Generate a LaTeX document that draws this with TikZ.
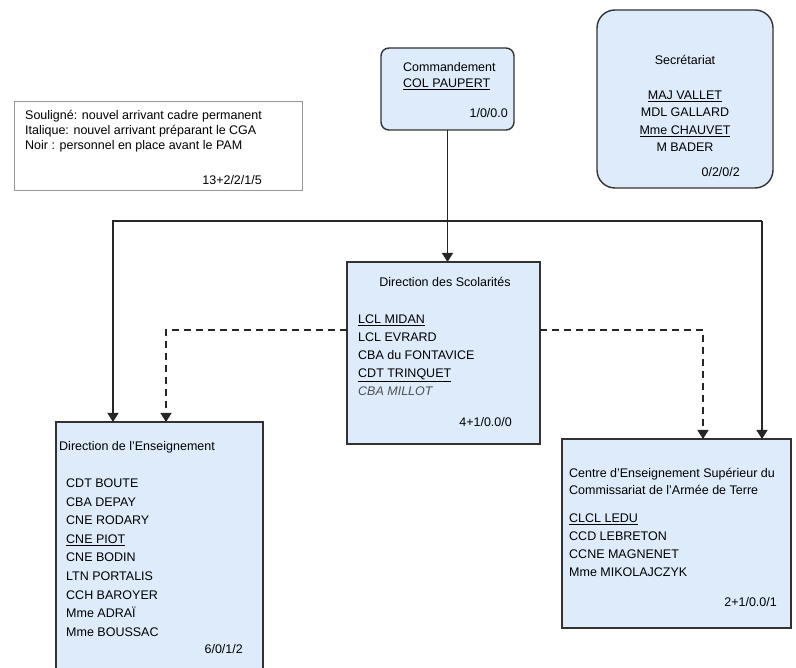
\documentclass[tikz,border=0pt]{standalone}
\usepackage{fontspec}
\setmainfont{Liberation Sans}
\usetikzlibrary{arrows.meta,calc}
\usepackage{xcolor}

\definecolor{unitfill}{RGB}{221,235,250}
\definecolor{unitline}{RGB}{50,50,50}
\definecolor{noteline}{RGB}{150,150,150}
\definecolor{italgray}{RGB}{80,80,80}

\begin{document}
\begin{tikzpicture}[
        %Environment config
        x=1pt, y=-1pt,
        font=\fontsize{12.5}{14}\selectfont,
        %Environment styles
        UnitCfg/.style={
            draw=unitline,
            line width=1.4pt,
            fill=unitfill,
            inner sep=0pt,
            outer sep=0pt
        },
        NoteCfg/.style={
            draw=noteline,
            line width=0.8pt,
            fill=white,
            inner sep=0pt,
            outer sep=0pt
        },
        TextCfg/.style={inner sep=0pt, align=left},
        LinkCfg/.style={
            draw=black!85,
            line width=1.3pt,
            -{Triangle[width=11pt,length=9pt]}
        },
        DashCfg/.style={LinkCfg, dash pattern=on 7pt off 5pt}
    ]
    \useasboundingbox (0,0) rectangle (796,668);

    %boxes
    \path
        (158,145.5) node[NoteCfg, minimum width=288pt, minimum height=89pt](NOTE){}
        (447.5,89) node[UnitCfg, rounded corners=8pt, minimum width=133pt, minimum height=82pt](CMD){}
        (685,99) node[UnitCfg, rounded corners=18pt, minimum width=176pt, minimum height=178pt](SECR){}
        (443.5,353) node[UnitCfg, minimum width=193pt, minimum height=182pt](SCOL){}
        (159.5,556) node[UnitCfg, minimum width=207pt, minimum height=268pt](ENS){}
        (676.5,533.5) node[UnitCfg, minimum width=229pt, minimum height=189pt](CESC){};

    %texts
    \path
        (NOTE.north west) ++(11,9) node[TextCfg, anchor=north west, font=\fontsize{12.5}{15}\selectfont](NOTETXT){
            Souligné: nouvel arrivant cadre permanent\\
            Italique: nouvel arrivant préparant le CGA\\
            Noir : personnel en place avant le PAM}
        (262,185) node[TextCfg, anchor=base east](NOTECNT){13+2/2/1/5}

        (403,62) node[TextCfg, anchor=north west, font=\fontsize{12.5}{16}\selectfont](CMDTXT){
            Commandement\\
            \underline{COL PAUPERT}}
        (508,118) node[TextCfg, anchor=base east](CMDCNT){1/0/0.0}

        (685,55) node[TextCfg, align=center, anchor=north, font=\fontsize{12.5}{17.5}\selectfont](SECRTXT){
            Secrétariat\\[17.5pt]
            \underline{MAJ VALLET}\\
            MDL GALLARD\\
            \underline{Mme CHAUVET}\\
            M BADER}
        (740,177) node[TextCfg, anchor=base east](SECRCNT){0/2/0/2}

        (445,287) node[TextCfg, anchor=base](SCOLTTL){Direction des Scolarités}
        (358,315) node[TextCfg, anchor=north west, font=\fontsize{12.5}{18}\selectfont](SCOLTXT){
            \underline{LCL MIDAN}\\
            LCL EVRARD\\
            CBA du FONTAVICE\\
            \underline{CDT TRINQUET}\\
            \textcolor{italgray}{\textit{CBA MILLOT}}}
        (512,427) node[TextCfg, anchor=base east](SCOLCNT){4+1/0.0/0}

        (59,451) node[TextCfg, anchor=base west](ENSTTL){Direction de l’Enseignement}
        (66,478.5) node[TextCfg, anchor=north west, font=\fontsize{12.5}{18.6}\selectfont](ENSTXT){
            CDT BOUTE\\
            CBA DEPAY\\
            CNE RODARY\\
            \underline{CNE PIOT}\\
            CNE BODIN\\
            LTN PORTALIS\\
            CCH BAROYER\\
            Mme ADRAÏ\\
            Mme BOUSSAC}
        (243,653) node[TextCfg, anchor=base east](ENSCNT){6/0/1/2}

        (569,468) node[TextCfg, anchor=north west, font=\fontsize{12.5}{17.5}\selectfont](CESCTTL){
            Centre d’Enseignement Supérieur du\\
            Commissariat de l’Armée de Terre}
        (569,513.5) node[TextCfg, anchor=north west, font=\fontsize{12.5}{18}\selectfont](CESCTXT){
            \underline{CLCL LEDU}\\
            CCD LEBRETON\\
            CCNE MAGNENET\\
            Mme MIKOLAJCZYK}
        (777,606) node[TextCfg, anchor=base east](CESCCNT){2+1/0.0/1};

    %links
    \coordinate (BUSL) at (113,221);
    \coordinate (BUSR) at (762,221);
    \coordinate (DSHL) at (166,330);
    \coordinate (DSHR) at (703,330);

    \draw[LinkCfg] (CMD.south) -- (CMD.south |- SCOL.north);
    \draw[LinkCfg] (BUSR) -- (BUSL) -- (BUSL |- ENS.north);
    \draw[LinkCfg] (BUSR) -- (BUSR |- CESC.north);

    \draw[DashCfg] (DSHL -| SCOL.west) -- (DSHL) -- (DSHL |- ENS.north);
    \draw[DashCfg] (DSHR -| SCOL.east) -- (DSHR) -- (DSHR |- CESC.north);

\end{tikzpicture}
\end{document}
